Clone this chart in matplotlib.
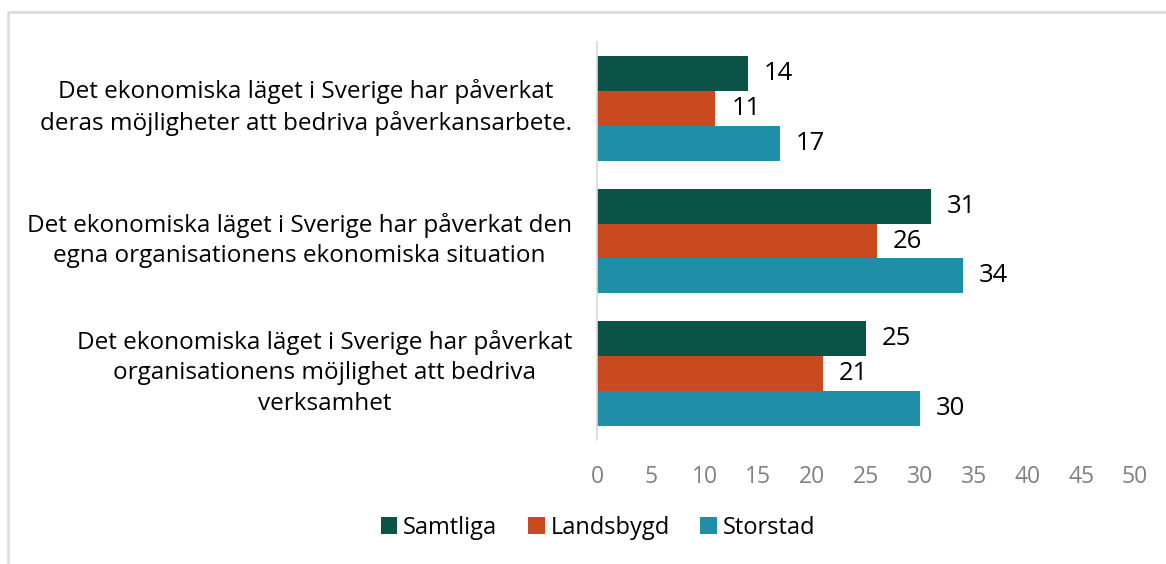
import matplotlib.pyplot as plt
import matplotlib.patches as patches
import matplotlib.transforms as mtransforms
import numpy as np

# DATA
categories = [
    'Det ekonomiska läget i Sverige har påverkat\nderas möjligheter att bedriva påverkansarbete.',
    'Det ekonomiska läget i Sverige har påverkat den\negna organisationens ekonomiska situation',
    'Det ekonomiska läget i Sverige har påverkat\norganisationens möjlighet att bedriva\nverksamhet',
]
series_names = ['Samtliga', 'Landsbygd', 'Storstad']
samtliga = [14, 31, 25]
landsbygd = [11, 26, 21]
storstad = [17, 34, 30]
x_ticks = [0, 5, 10, 15, 20, 25, 30, 35, 40, 45, 50]

COLORS = ['#0B5346', '#C84A1E', '#1F8FA8']

plt.rcParams['font.family'] = ['Open Sans', 'DejaVu Sans']

fig = plt.figure(figsize=(11.66, 5.64), dpi=100)
ax = fig.add_axes([597 / 1166, 1 - 440 / 564, (1135 - 597) / 1166, (440 - 42) / 564])

# light frame around the chart area
frame = patches.Rectangle((8 / 1166, -0.1), 1.2, 1 - 12 / 564 + 0.1, transform=fig.transFigure,
                          fill=False, edgecolor='#d9d9d9', lw=1.8, clip_on=False)
fig.patches.append(frame)

y = np.arange(len(categories))
h = 0.263
all_values = [samtliga, landsbygd, storstad]
for i, (name, vals) in enumerate(zip(series_names, all_values)):
    pos = y + (i - 1) * h
    bars = ax.barh(pos, vals, height=h, color=COLORS[i], label=name)
    for b, v in zip(bars, vals):
        ax.text(b.get_width() + 1.5, b.get_y() + b.get_height() / 2, str(v),
                va='center', ha='left', fontsize=18.5, color='black')

ax.set_ylim(2.5, -0.5)
ax.set_xlim(0, 50)
ax.set_xticks(x_ticks)
ax.set_yticks(y)
ax.set_yticklabels(categories, fontsize=17.5, multialignment='center', linespacing=1.35)
ax.tick_params(axis='y', length=0, pad=18)
ax.tick_params(axis='x', length=0, pad=18, labelsize=16.5, labelcolor='#808080')

# nudge the category labels up a bit
shift = mtransforms.ScaledTranslation(0, 7 / 100, fig.dpi_scale_trans)
for lab in ax.get_yticklabels():
    lab.set_transform(lab.get_transform() + shift)

for s in ['top', 'right', 'bottom']:
    ax.spines[s].set_visible(False)
ax.spines['left'].set_color('#d9d9d9')
ax.spines['left'].set_linewidth(1.2)

fig.legend(loc='center', bbox_to_anchor=(598 / 1166, 1 - 528 / 564), ncol=3, frameon=False,
           fontsize=17, handlelength=0.7, handleheight=0.7, handletextpad=0.25, columnspacing=1.3)

plt.savefig('out.png', dpi=100)
